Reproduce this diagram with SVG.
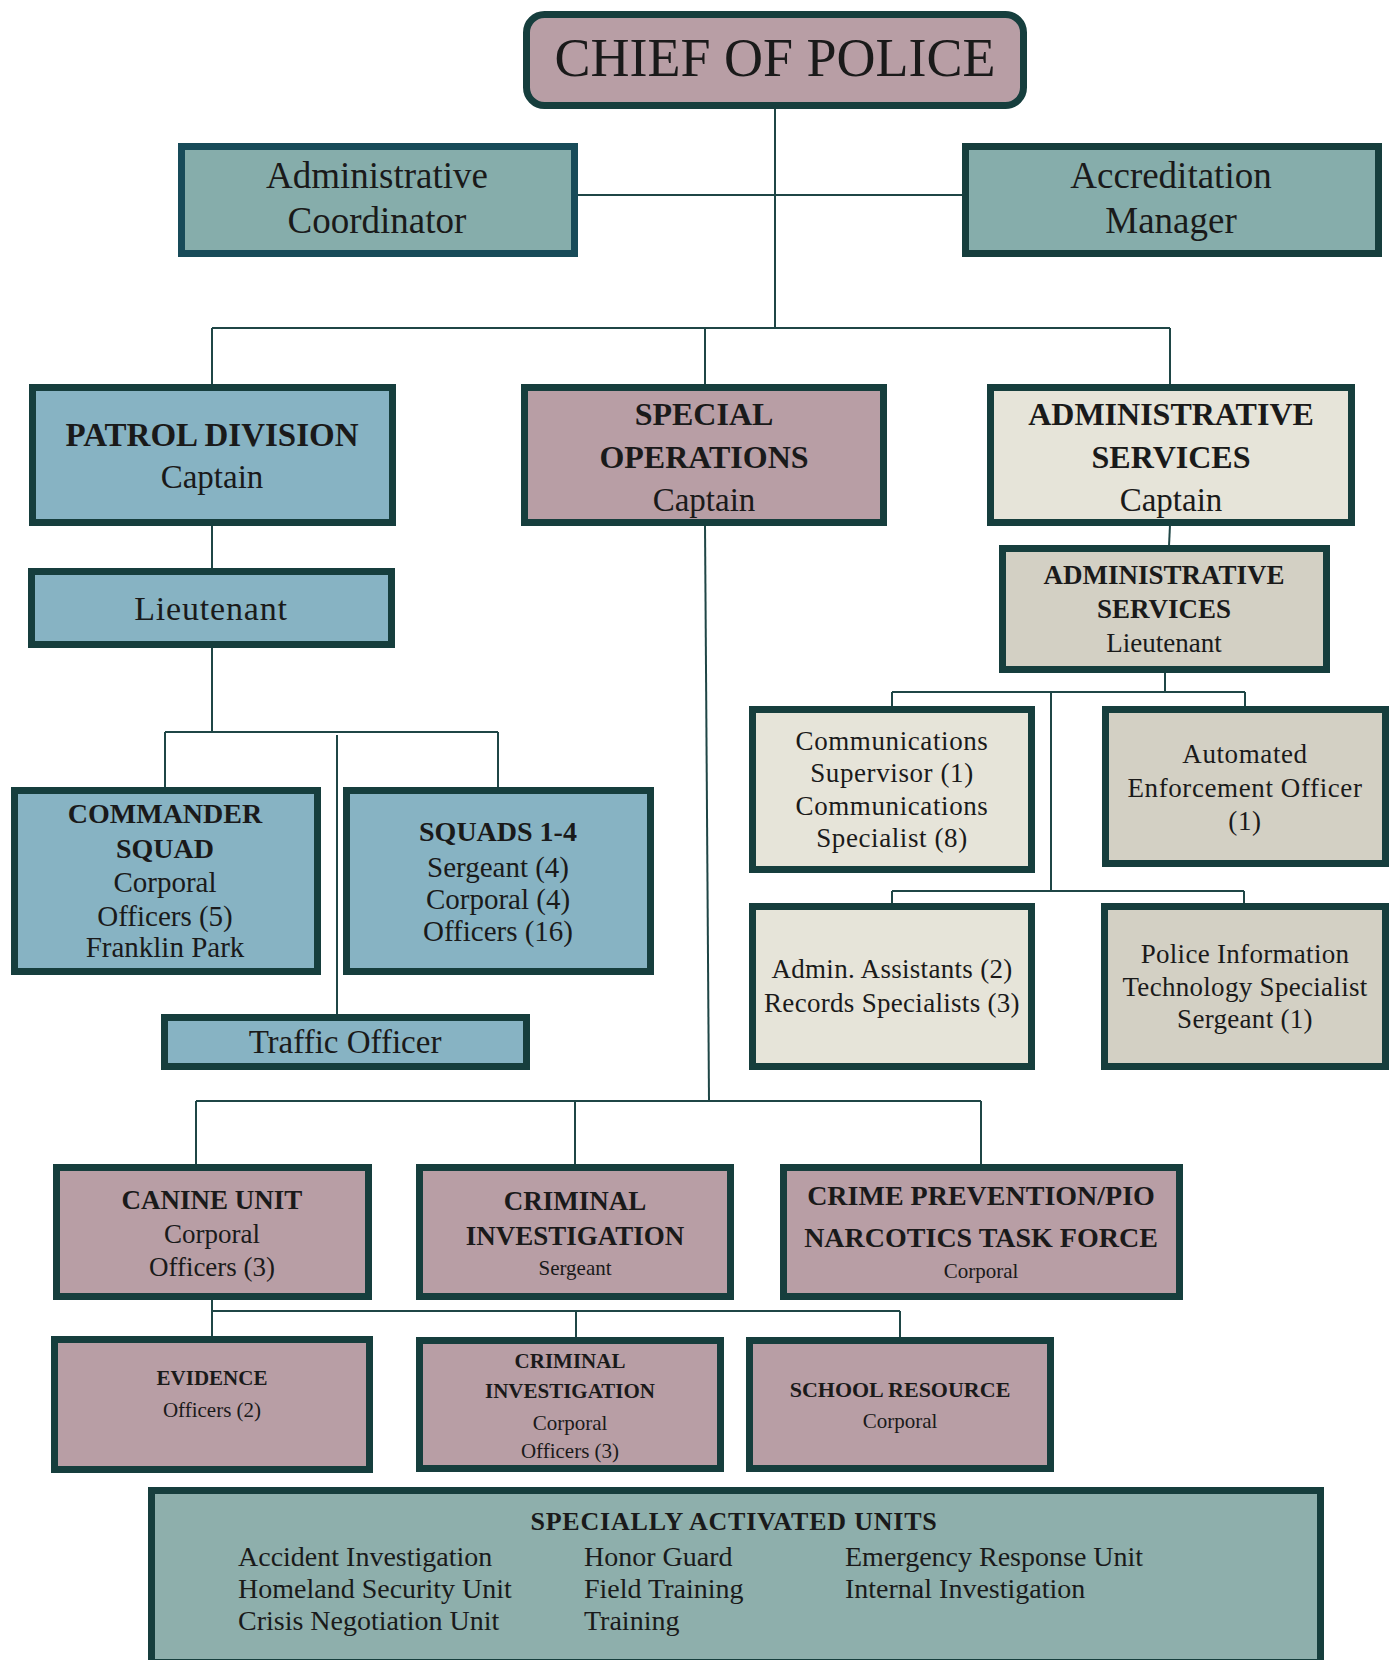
<svg xmlns="http://www.w3.org/2000/svg" width="1394" height="1660" viewBox="0 0 1394 1660">
<style>
  .box { stroke: #163e3d; stroke-width: 7; }
  .mauve { fill: #b89ea5; }
  .blue { fill: #87b3c3; }
  .teal { fill: #86adab; }
  .cream { fill: #e6e4d9; }
  .gray { fill: #d3d0c4; }
  .sage { fill: #8eafac; }
  text { font-family: "Liberation Serif", "DejaVu Serif", serif; fill: #1a1a1a; text-anchor: middle; }
  .b { font-weight: bold; }
  .l { text-anchor: start; }
  .conn line, .conn polyline { stroke: #1f4646; stroke-width: 2; fill: none; }
</style>
<rect width="1394" height="1660" fill="#ffffff"/>

<g class="conn" id="connectors">
  <line x1="775" y1="108" x2="775" y2="328"/>
  <line x1="576" y1="195" x2="963" y2="195"/>
  <line x1="212" y1="328" x2="1170" y2="328"/>
  <line x1="212" y1="328" x2="212" y2="385"/>
  <line x1="705" y1="328" x2="705" y2="385"/>
  <line x1="1170" y1="328" x2="1170" y2="385"/>
  <line x1="212" y1="525" x2="212" y2="569"/>
  <line x1="212" y1="647" x2="212" y2="732"/>
  <line x1="165" y1="732" x2="498" y2="732"/>
  <line x1="165" y1="732" x2="165" y2="788"/>
  <line x1="498" y1="732" x2="498" y2="788"/>
  <line x1="337" y1="735" x2="337" y2="1015"/>
  <line x1="705" y1="525" x2="709" y2="1101"/>
  <line x1="196" y1="1101" x2="981" y2="1101"/>
  <line x1="196" y1="1101" x2="196" y2="1165"/>
  <line x1="575" y1="1101" x2="575" y2="1165"/>
  <line x1="981" y1="1101" x2="981" y2="1165"/>
  <line x1="212" y1="1299" x2="212" y2="1337"/>
  <line x1="212" y1="1311" x2="900" y2="1311"/>
  <line x1="576" y1="1311" x2="576" y2="1338"/>
  <line x1="900" y1="1311" x2="900" y2="1338"/>
  <line x1="1170" y1="525" x2="1169" y2="546"/>
  <line x1="1165" y1="672" x2="1165" y2="692"/>
  <line x1="892" y1="692" x2="1245" y2="692"/>
  <line x1="892" y1="692" x2="892" y2="707"/>
  <line x1="1245" y1="692" x2="1245" y2="707"/>
  <line x1="1051" y1="692" x2="1051" y2="891"/>
  <line x1="892" y1="891" x2="1244" y2="891"/>
  <line x1="892" y1="891" x2="892" y2="904"/>
  <line x1="1244" y1="891" x2="1244" y2="904"/>
</g>

<g id="chief">
  <rect class="box mauve" x="526.5" y="14.5" width="497" height="91" rx="18"/>
  <text x="775" y="76" font-size="54">CHIEF OF POLICE</text>
</g>

<g id="admin-coordinator">
  <rect class="box teal" style="stroke:#184b59" x="181.5" y="146.5" width="393" height="107"/>
  <text x="377" y="188" font-size="37">Administrative</text>
  <text x="377" y="233" font-size="37">Coordinator</text>
</g>

<g id="accreditation-manager">
  <rect class="box teal" x="965.5" y="146.5" width="413" height="107"/>
  <text x="1171" y="188" font-size="37">Accreditation</text>
  <text x="1171" y="233" font-size="37">Manager</text>
</g>

<g id="patrol-division">
  <rect class="box blue" x="32.5" y="387.5" width="360" height="135"/>
  <text class="b" x="212" y="446" font-size="33">PATROL DIVISION</text>
  <text x="212" y="488" font-size="33">Captain</text>
</g>

<g id="patrol-lieutenant">
  <rect class="box blue" x="31.5" y="571.5" width="360" height="73"/>
  <text x="211" y="620" font-size="34" letter-spacing="0.8">Lieutenant</text>
</g>

<g id="commander-squad">
  <rect class="box blue" x="14.5" y="790.5" width="303" height="181"/>
  <text class="b" x="165" y="823" font-size="28">COMMANDER</text>
  <text class="b" x="165" y="858" font-size="28">SQUAD</text>
  <text x="165" y="892" font-size="29">Corporal</text>
  <text x="165" y="926" font-size="29">Officers (5)</text>
  <text x="165" y="957" font-size="29">Franklin Park</text>
</g>

<g id="squads-1-4">
  <rect class="box blue" x="346.5" y="790.5" width="304" height="181"/>
  <text class="b" x="498" y="841" font-size="28">SQUADS 1-4</text>
  <text x="498" y="877" font-size="29">Sergeant (4)</text>
  <text x="498" y="909" font-size="29">Corporal (4)</text>
  <text x="498" y="941" font-size="29">Officers (16)</text>
</g>

<g id="traffic-officer">
  <rect class="box blue" x="164.5" y="1017.5" width="362" height="49"/>
  <text x="345" y="1053" font-size="33">Traffic Officer</text>
</g>

<g id="special-operations">
  <rect class="box mauve" x="524.5" y="387.5" width="359" height="135"/>
  <text class="b" x="704" y="425" font-size="32">SPECIAL</text>
  <text class="b" x="704" y="468" font-size="32">OPERATIONS</text>
  <text x="704" y="511" font-size="33">Captain</text>
</g>

<g id="admin-services-captain">
  <rect class="box cream" x="990.5" y="387.5" width="361" height="135"/>
  <text class="b" x="1171" y="425" font-size="32">ADMINISTRATIVE</text>
  <text class="b" x="1171" y="468" font-size="32">SERVICES</text>
  <text x="1171" y="511" font-size="33">Captain</text>
</g>

<g id="admin-services-lieutenant">
  <rect class="box gray" x="1002.5" y="548.5" width="324" height="121"/>
  <text class="b" x="1164" y="584" font-size="27">ADMINISTRATIVE</text>
  <text class="b" x="1164" y="618" font-size="27">SERVICES</text>
  <text x="1164" y="652" font-size="27">Lieutenant</text>
</g>

<g id="communications">
  <rect class="box cream" x="752.5" y="709.5" width="279" height="160"/>
  <text x="892" y="750" font-size="27" letter-spacing="0.6">Communications</text>
  <text x="892" y="782" font-size="27" letter-spacing="0.6">Supervisor (1)</text>
  <text x="892" y="815" font-size="27" letter-spacing="0.6">Communications</text>
  <text x="892" y="847" font-size="27" letter-spacing="0.6">Specialist (8)</text>
</g>

<g id="automated-enforcement">
  <rect class="box gray" x="1105.5" y="709.5" width="280" height="154"/>
  <text x="1245" y="763" font-size="27" letter-spacing="0.6">Automated</text>
  <text x="1245" y="797" font-size="27" letter-spacing="0.6">Enforcement Officer</text>
  <text x="1245" y="830" font-size="27" letter-spacing="0.6">(1)</text>
</g>

<g id="admin-assistants">
  <rect class="box cream" x="752.5" y="906.5" width="279" height="160"/>
  <text x="892" y="978" font-size="27" letter-spacing="0.3">Admin. Assistants (2)</text>
  <text x="892" y="1012" font-size="27" letter-spacing="0.3">Records Specialists (3)</text>
</g>

<g id="police-it">
  <rect class="box gray" x="1104.5" y="906.5" width="281" height="160"/>
  <text x="1245" y="963" font-size="27" letter-spacing="0.3">Police Information</text>
  <text x="1245" y="996" font-size="27" letter-spacing="0.3">Technology Specialist</text>
  <text x="1245" y="1028" font-size="27" letter-spacing="0.3">Sergeant (1)</text>
</g>

<g id="canine-unit">
  <rect class="box mauve" x="56.5" y="1167.5" width="312" height="129"/>
  <text class="b" x="212" y="1209" font-size="27">CANINE UNIT</text>
  <text x="212" y="1243" font-size="27">Corporal</text>
  <text x="212" y="1276" font-size="27">Officers (3)</text>
</g>

<g id="criminal-investigation">
  <rect class="box mauve" x="419.5" y="1167.5" width="311" height="129"/>
  <text class="b" x="575" y="1210" font-size="27">CRIMINAL</text>
  <text class="b" x="575" y="1245" font-size="27">INVESTIGATION</text>
  <text x="575" y="1275" font-size="21">Sergeant</text>
</g>

<g id="crime-prevention">
  <rect class="box mauve" x="783.5" y="1167.5" width="396" height="129"/>
  <text class="b" x="981" y="1205" font-size="28">CRIME PREVENTION/PIO</text>
  <text class="b" x="981" y="1247" font-size="28">NARCOTICS TASK FORCE</text>
  <text x="981" y="1278" font-size="21">Corporal</text>
</g>

<g id="evidence">
  <rect class="box mauve" x="54.5" y="1339.5" width="315" height="130"/>
  <text class="b" x="212" y="1385" font-size="21">EVIDENCE</text>
  <text x="212" y="1417" font-size="21">Officers (2)</text>
</g>

<g id="criminal-investigation-corporal">
  <rect class="box mauve" x="419.5" y="1340.5" width="301" height="128"/>
  <text class="b" x="570" y="1368" font-size="21">CRIMINAL</text>
  <text class="b" x="570" y="1398" font-size="21">INVESTIGATION</text>
  <text x="570" y="1430" font-size="21">Corporal</text>
  <text x="570" y="1458" font-size="21">Officers (3)</text>
</g>

<g id="school-resource">
  <rect class="box mauve" x="749.5" y="1340.5" width="301" height="128"/>
  <text class="b" x="900" y="1397" font-size="22">SCHOOL RESOURCE</text>
  <text x="900" y="1428" font-size="21">Corporal</text>
</g>

<g id="specially-activated-units">
  <rect class="box sage" x="151.5" y="1490.5" width="1169" height="172"/>
  <text class="b" x="734" y="1530" font-size="26" letter-spacing="0.8">SPECIALLY ACTIVATED UNITS</text>
  <text class="l" x="238" y="1566" font-size="28">Accident Investigation</text>
  <text class="l" x="238" y="1598" font-size="28">Homeland Security Unit</text>
  <text class="l" x="238" y="1630" font-size="28">Crisis Negotiation Unit</text>
  <text class="l" x="584" y="1566" font-size="28">Honor Guard</text>
  <text class="l" x="584" y="1598" font-size="28">Field Training</text>
  <text class="l" x="584" y="1630" font-size="28">Training</text>
  <text class="l" x="845" y="1566" font-size="28">Emergency Response Unit</text>
  <text class="l" x="845" y="1598" font-size="28">Internal Investigation</text>
</g>
</svg>
